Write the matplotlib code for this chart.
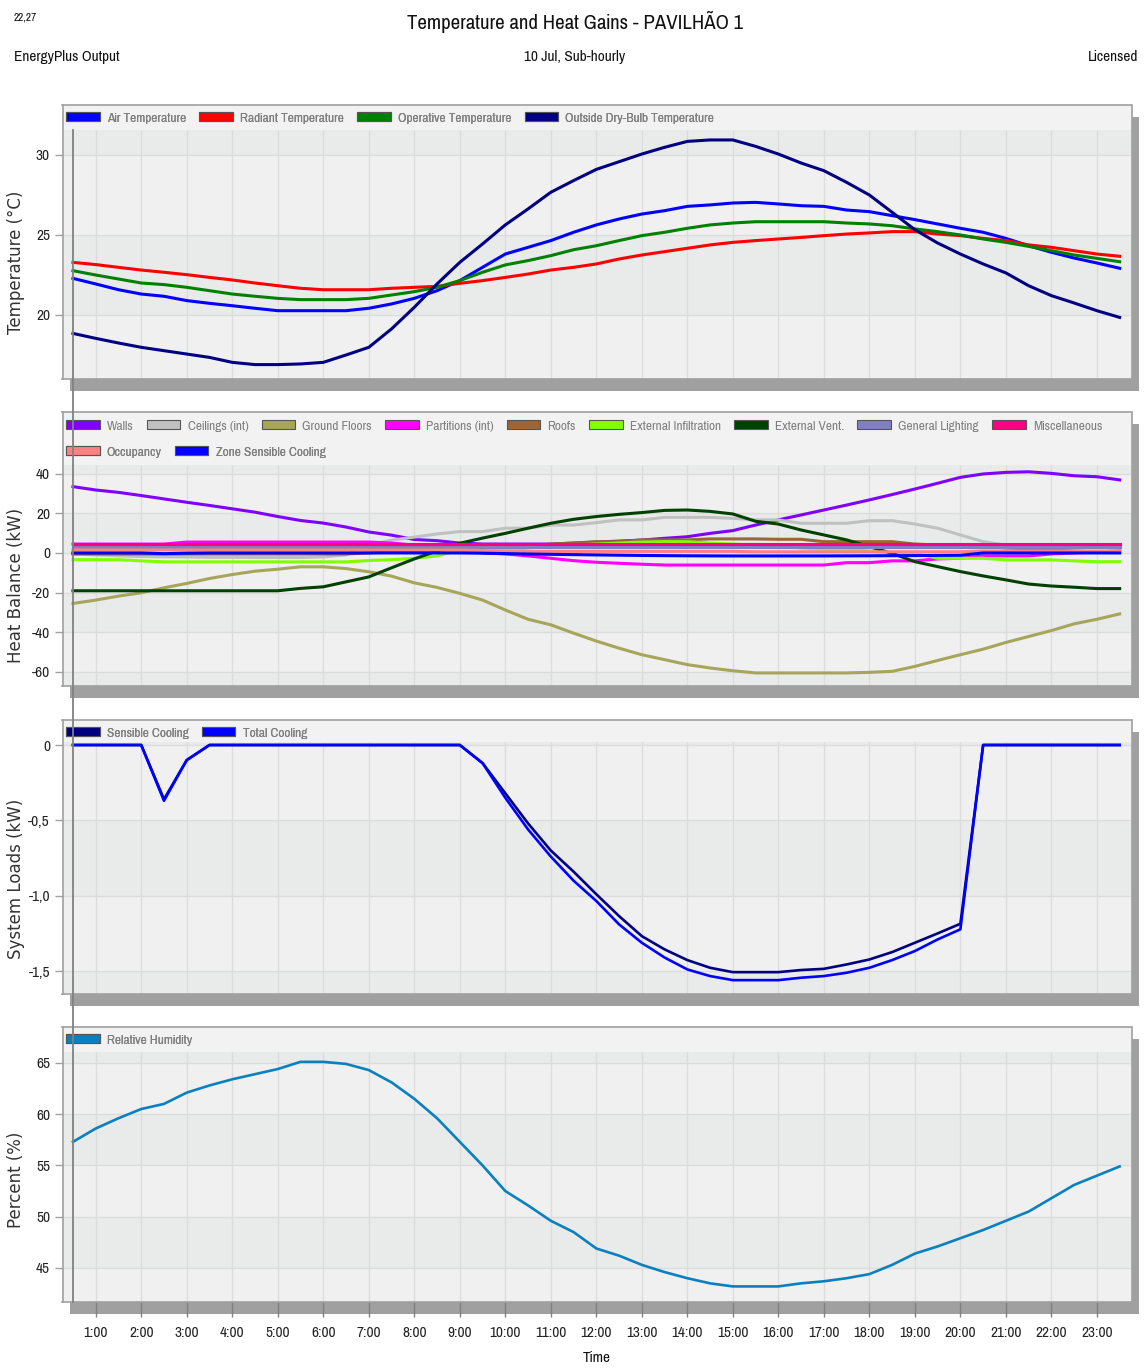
import numpy as np
import matplotlib
matplotlib.use("Agg")
import matplotlib.pyplot as plt
from matplotlib.patches import Rectangle, Patch
from matplotlib.lines import Line2D
from matplotlib import transforms

W, H, DPI = 1146, 1369, 100
NARROW = ['Pragati Narrow', 'Archivo Narrow', 'DejaVu Sans']

# ---------------------------------------------------------------- data
hours = np.arange(0.5, 23.51, 0.5)          # sub-hourly time stamps (h)
hour_ticks = list(range(1, 24))
hour_labels = [f"{h}:00" for h in hour_ticks]

air_temp = [22.29, 21.94, 21.58, 21.31, 21.17, 20.90, 20.73, 20.58, 20.42, 20.27,
            20.27, 20.27, 20.27, 20.42, 20.69, 21.04, 21.52, 22.15, 22.98, 23.81,
            24.23, 24.65, 25.17, 25.63, 26.00, 26.31, 26.52, 26.79, 26.88, 27.00,
            27.04, 26.94, 26.83, 26.79, 26.56, 26.46, 26.21, 25.96, 25.69, 25.42,
            25.17, 24.79, 24.33, 23.92, 23.56, 23.25, 22.92]
radiant_temp = [23.29, 23.15, 22.98, 22.81, 22.67, 22.52, 22.35, 22.19, 22.00, 21.83,
                21.67, 21.58, 21.58, 21.58, 21.67, 21.73, 21.79, 21.98, 22.15, 22.35,
                22.56, 22.81, 22.98, 23.19, 23.50, 23.75, 23.96, 24.17, 24.38, 24.54,
                24.65, 24.75, 24.85, 24.96, 25.06, 25.13, 25.21, 25.21, 25.06, 24.96,
                24.79, 24.65, 24.38, 24.23, 24.02, 23.81, 23.67]
operative_temp = [22.77, 22.50, 22.25, 22.00, 21.90, 21.73, 21.52, 21.31, 21.17, 21.04,
                  20.96, 20.96, 20.96, 21.04, 21.25, 21.46, 21.73, 22.15, 22.67, 23.13,
                  23.40, 23.71, 24.08, 24.33, 24.65, 24.96, 25.17, 25.42, 25.63, 25.75,
                  25.83, 25.83, 25.83, 25.83, 25.75, 25.69, 25.58, 25.38, 25.21, 25.00,
                  24.75, 24.54, 24.29, 24.02, 23.75, 23.54, 23.33]
outside_temp = [18.85, 18.54, 18.25, 17.98, 17.77, 17.56, 17.35, 17.04, 16.90, 16.90,
                16.94, 17.04, 17.50, 17.98, 19.13, 20.48, 21.94, 23.29, 24.44, 25.63,
                26.63, 27.67, 28.40, 29.10, 29.58, 30.06, 30.48, 30.85, 30.94, 30.94,
                30.54, 30.06, 29.50, 29.02, 28.29, 27.50, 26.42, 25.33, 24.50, 23.81,
                23.19, 22.63, 21.83, 21.21, 20.75, 20.27, 19.85]

walls = [33.5, 31.8, 30.6, 29.0, 27.3, 25.6, 24.0, 22.3, 20.6, 18.4,
         16.4, 15.1, 13.1, 10.6, 9.0, 6.8, 6.2, 5.0, 4.5, 4.5,
         4.5, 4.5, 5.0, 5.5, 6.0, 6.5, 7.4, 8.2, 9.9, 11.3,
         14.1, 16.7, 19.2, 21.7, 24.2, 26.8, 29.5, 32.3, 35.2, 38.2,
         39.9, 40.7, 41.0, 40.2, 39.0, 38.5, 36.9]
ceilings = [-0.5, -1.0, -1.5, -1.8, -2.0, -2.0, -2.2, -2.2, -2.3, -2.3,
            -2.3, -2.0, -1.0, 4.0, 6.5, 8.0, 9.6, 10.8, 10.8, 12.5,
            12.5, 14.1, 14.1, 15.3, 16.7, 16.7, 18.0, 18.0, 18.0, 17.5,
            16.7, 16.7, 15.0, 15.0, 15.0, 16.3, 16.3, 14.6, 12.5, 9.1,
            5.7, 4.0, 3.5, 3.2, 3.0, 3.0, 3.0]
ground_floors = [-25.5, -23.8, -21.8, -20.1, -17.6, -15.4, -12.9, -10.9, -9.2, -8.2,
                 -7.0, -7.0, -7.9, -9.5, -11.7, -15.1, -17.4, -20.4, -23.8, -28.8,
                 -33.5, -36.3, -40.5, -44.5, -48.1, -51.4, -53.9, -56.4, -58.1, -59.5,
                 -60.6, -60.6, -60.6, -60.6, -60.6, -60.3, -59.8, -57.3, -54.3, -51.4,
                 -48.6, -45.2, -42.2, -39.2, -35.8, -33.5, -30.8]
partitions = [4.5, 4.5, 4.5, 4.5, 4.5, 5.5, 5.5, 5.5, 5.5, 5.5,
              5.5, 5.5, 5.5, 5.5, 5.0, 4.0, 1.5, 1.5, 0.0, -0.5,
              -1.5, -2.7, -3.9, -4.7, -5.2, -5.7, -6.1, -6.1, -6.1, -6.1,
              -6.1, -6.1, -6.1, -6.1, -4.9, -4.9, -4.0, -4.0, -3.0, -2.7,
              -1.5, -1.5, -1.5, -0.5, 0.0, 0.5, 1.0]
roofs = [-0.5, -0.5, -0.5, -0.5, -0.5, -0.5, -0.5, -0.5, -0.5, -0.5,
         -0.5, -0.5, -0.5, 0.0, 0.5, 1.0, 1.5, 2.0, 2.5, 3.0,
         3.5, 4.5, 5.0, 5.7, 5.7, 6.6, 6.6, 6.6, 7.1, 7.1,
         7.1, 6.9, 6.9, 5.7, 5.7, 5.7, 5.7, 4.5, 4.0, 3.5,
         3.5, 2.5, 2.0, 1.5, 1.0, 0.5, 0.5]
infiltration = [-3.4, -3.4, -3.4, -4.0, -4.5, -4.5, -4.5, -4.5, -4.5, -4.5,
                -4.5, -4.5, -4.5, -3.8, -3.4, -2.7, -1.5, 1.5, 1.5, 1.5,
                2.5, 3.5, 4.0, 4.5, 5.0, 5.5, 5.7, 5.7, 5.0, 4.5,
                4.0, 3.5, 2.5, 1.9, 1.9, 1.0, -0.2, -0.2, -2.7, -2.7,
                -2.7, -3.5, -3.5, -3.5, -4.0, -4.4, -4.4]
ventilation = [-19.1, -19.1, -19.1, -19.1, -19.1, -19.1, -19.1, -19.1, -19.1, -19.1,
               -17.9, -17.1, -14.6, -12.1, -7.5, -3.0, 1.0, 4.9, 7.5, 9.9,
               12.5, 15.0, 17.0, 18.4, 19.5, 20.4, 21.5, 21.7, 21.0, 19.7,
               16.0, 14.6, 11.6, 9.1, 6.6, 3.2, -0.2, -4.4, -6.9, -9.4,
               -11.6, -13.6, -15.7, -16.7, -17.3, -18.0, -18.0]
lighting = [2.8, 2.8, 2.8, 2.8, 2.8, 2.8, 2.8, 2.8, 2.8, 2.8,
            2.8, 2.8, 2.8, 2.8, 2.8, 2.8, 2.8, 2.8, 2.8, 2.8,
            2.8, 2.8, 2.8, 2.8, 2.8, 2.8, 2.8, 2.8, 2.8, 2.8,
            2.8, 2.8, 2.8, 2.8, 2.8, 2.8, 2.8, 2.8, 2.8, 2.8,
            2.8, 2.8, 2.8, 2.8, 2.8, 2.8, 2.8]
miscellaneous = [4.5, 4.5, 4.5, 4.5, 4.5, 4.5, 4.5, 4.5, 4.5, 4.5,
                 4.5, 4.5, 4.5, 4.5, 4.5, 4.5, 4.5, 4.5, 4.5, 4.5,
                 4.5, 4.5, 4.5, 4.5, 4.5, 4.5, 4.5, 4.5, 4.5, 4.5,
                 4.5, 4.5, 4.5, 4.5, 4.5, 4.5, 4.5, 4.5, 4.5, 4.5,
                 4.5, 4.5, 4.5, 4.5, 4.5, 4.5, 4.5]
occupancy = [1.5, 1.5, 1.5, 1.5, 1.5, 1.5, 1.5, 1.5, 1.5, 1.5,
             1.5, 1.5, 1.5, 1.5, 1.5, 1.5, 1.5, 1.5, 1.2, 0.8,
             0.8, 0.8, 0.8, 0.8, 0.8, 0.8, 0.8, 0.8, 0.8, 0.8,
             0.6, 0.6, 0.6, 0.6, 0.6, 0.6, 0.6, 0.6, 0.6, 0.6,
             1.0, 1.0, 1.0, 1.0, 1.0, 1.0, 1.0]

sensible_cooling = [0, 0, 0, 0, -0.36, -0.10, 0, 0, 0, 0,
                    0, 0, 0, 0, 0, 0, 0, 0, -0.12, -0.32,
                    -0.52, -0.70, -0.84, -0.99, -1.135, -1.268, -1.356, -1.427, -1.478, -1.507,
                    -1.507, -1.507, -1.493, -1.485, -1.456, -1.423, -1.374, -1.312, -1.25, -1.186,
                    0, 0, 0, 0, 0, 0, 0]
total_cooling = [0, 0, 0, 0, -0.37, -0.10, 0, 0, 0, 0,
                 0, 0, 0, 0, 0, 0, 0, 0, -0.12, -0.35,
                 -0.56, -0.74, -0.90, -1.035, -1.19, -1.312, -1.41, -1.489, -1.533, -1.56,
                 -1.56, -1.56, -1.544, -1.533, -1.511, -1.478, -1.427, -1.367, -1.29, -1.223,
                 0, 0, 0, 0, 0, 0, 0]
zone_sensible_cooling = sensible_cooling

rel_humidity = [57.3, 58.6, 59.6, 60.5, 61.0, 62.1, 62.8, 63.4, 63.9, 64.4,
                65.1, 65.1, 64.9, 64.3, 63.1, 61.5, 59.6, 57.3, 55.0, 52.5,
                51.1, 49.6, 48.5, 46.9, 46.2, 45.3, 44.6, 44.0, 43.5, 43.2,
                43.2, 43.2, 43.5, 43.7, 44.0, 44.4, 45.3, 46.4, 47.1, 47.9,
                48.7, 49.6, 50.5, 51.8, 53.1, 54.0, 54.9]

# ---------------------------------------------------------------- figure
fig = plt.figure(figsize=(W / DPI, H / DPI), dpi=DPI)
fig.patch.set_facecolor('white')

XLIM = (0.27, 23.76)
FRAME_X = (62.5, 1131.5)
SHADOW_DX, SHADOW_DY = 7, 12


def fig_rect(x0, y0, x1, y1):
    return [x0 / W, 1 - y1 / H, (x1 - x0) / W, (y1 - y0) / H]


def make_panel(top, bottom, ylim, band_bottom, ticks, ticklabels, ylabel, ylabel_y):
    x0, x1 = FRAME_X
    # drop shadow
    fig.add_artist(Rectangle(((x0 + SHADOW_DX) / W, 1 - (bottom + SHADOW_DY) / H),
                             (x1 - x0) / W, (bottom - top) / H,
                             transform=fig.transFigure, facecolor='#a0a0a0',
                             edgecolor='none', zorder=0))
    ax = fig.add_axes(fig_rect(x0, top, x1, bottom), zorder=1)
    ax.set_xlim(*XLIM)
    ax.set_ylim(*ylim)
    ax.set_facecolor('#eceded')
    # alternating horizontal bands between the y ticks
    edges = sorted(set([ylim[0]] + list(ticks) + [band_bottom]))
    n = len(edges) - 1
    for i in range(n):
        dark = ((n - 1 - i) % 2 == 0)
        ax.axhspan(edges[i], edges[i + 1], color='#e9eaea' if dark else '#eff0ef',
                   lw=0, zorder=0.2)
    ax.axhspan(band_bottom, ylim[1], color='#f1f2f1', lw=0, zorder=0.3)
    # grid
    ax.vlines(hour_ticks, ylim[0], band_bottom, color='#dcdcdc', lw=1.0, zorder=0.5)
    ax.hlines(ticks, XLIM[0], XLIM[1], color='#dcdcdc', lw=1.0, zorder=0.5)
    for s in ax.spines.values():
        s.set_color('#a0a0a0')
        s.set_linewidth(1.2)
    ax.set_yticks(ticks)
    ax.set_yticklabels(ticklabels, family=NARROW, fontsize=12, color='#222222')
    ax.tick_params(axis='y', direction='out', length=6, width=1, color='#a0a0a0', pad=3)
    ax.set_xticks(hour_ticks)
    ax.tick_params(axis='x', length=0, labelbottom=False)
    fig.text(16 / W, 1 - ylabel_y / H, ylabel, rotation=90, ha='center', va='center',
             fontsize=12, color='#333333', family='DejaVu Sans')
    return ax


def legend_row(ax, handles, labels, top, bottom, y_px):
    leg = ax.legend(handles, labels, loc='center left',
                    bbox_to_anchor=((66 - FRAME_X[0]) / (FRAME_X[1] - FRAME_X[0]),
                                    (bottom - y_px) / (bottom - top)),
                    ncol=len(labels), frameon=False, borderpad=0, borderaxespad=0,
                    handlelength=2.3, handleheight=0.55, handletextpad=0.5,
                    columnspacing=0.9, labelcolor='#7f7f7f',
                    prop={'family': NARROW, 'size': 10.5})
    ax.add_artist(leg)
    return leg


def patch(c):
    return Patch(facecolor=c, edgecolor='#555555', linewidth=0.8)


LW = 2.2

# ---- panel 1: temperatures
t1, b1 = 105, 379
ax1 = make_panel(t1, b1, (16.0, 33.125), 31.56, [20, 25, 30], ['20', '25', '30'],
                 'Temperature (°C)', 262)
temp_series = [('Air Temperature', air_temp, '#0000ff'),
               ('Radiant Temperature', radiant_temp, '#ff0000'),
               ('Operative Temperature', operative_temp, '#008000'),
               ('Outside Dry-Bulb Temperature', outside_temp, '#000080')]
for i, (lab, vals, c) in enumerate(temp_series):
    ax1.plot(hours, vals, color=c, lw=LW, zorder=2 + i * 0.1)
legend_row(ax1, [patch(c) for _, _, c in temp_series], [l for l, _, _ in temp_series],
           t1, b1, 118)

# ---- panel 2: heat balance
t2, b2 = 412, 686
ax2 = make_panel(t2, b2, (-67.2, 71.2), 44.4, [-60, -40, -20, 0, 20, 40],
                 ['-60', '-40', '-20', '0', '20', '40'], 'Heat Balance (kW)', 585)
heat_series = [('Walls', walls, '#8000ff'),
               ('Ceilings (int)', ceilings, '#c0c0c0'),
               ('Ground Floors', ground_floors, '#a6a55a'),
               ('Partitions (int)', partitions, '#ff00ff'),
               ('Roofs', roofs, '#9c6535'),
               ('External Infiltration', infiltration, '#80ff00'),
               ('External Vent.', ventilation, '#004000'),
               ('General Lighting', lighting, '#8080c0'),
               ('Miscellaneous', miscellaneous, '#ff0080'),
               ('Occupancy', occupancy, '#ff8080'),
               ('Zone Sensible Cooling', zone_sensible_cooling, '#0000ff')]
for i, (lab, vals, c) in enumerate(heat_series):
    ax2.plot(hours, vals, color=c, lw=LW, zorder=2 + i * 0.1)
legend_row(ax2, [patch(c) for _, _, c in heat_series[:9]], [l for l, _, _ in heat_series[:9]],
           t2, b2, 426)
legend_row(ax2, [patch(c) for _, _, c in heat_series[9:]], [l for l, _, _ in heat_series[9:]],
           t2, b2, 452)

# ---- panel 3: system loads
t3, b3 = 720, 994
ax3 = make_panel(t3, b3, (-1.652, 0.166), 0.02, [-1.5, -1.0, -0.5, 0],
                 ['-1,5', '-1,0', '-0,5', '0'], 'System Loads (kW)', 879)
sys_series = [('Sensible Cooling', sensible_cooling, '#000080'),
              ('Total Cooling', total_cooling, '#0000ff')]
for i, (lab, vals, c) in enumerate(sys_series):
    ax3.plot(hours, vals, color=c, lw=1.9, zorder=2 + i * 0.1)
legend_row(ax3, [patch(c) for _, _, c in sys_series], [l for l, _, _ in sys_series],
           t3, b3, 733)

# ---- panel 4: relative humidity
t4, b4 = 1027, 1302
ax4 = make_panel(t4, b4, (41.68, 68.5), 66.07, [45, 50, 55, 60, 65],
                 ['45', '50', '55', '60', '65'], 'Percent (%)', 1180)
ax4.plot(hours, rel_humidity, color='#0a80c0', lw=1.9, zorder=2)
legend_row(ax4, [patch('#0a80c0')], ['Relative Humidity'], t4, b4, 1040)
ax4.tick_params(axis='x', length=11, width=1, color='#808080', labelbottom=True, pad=6)
ax4.set_xticklabels(hour_labels, family=NARROW, fontsize=12, color='#222222')

# vertical marker at the first time stamp, spanning all panels
trans = transforms.blended_transform_factory(ax4.transData, fig.transFigure)
fig.add_artist(Line2D([hours[0], hours[0]], [1 - 1302 / H, 1 - 130 / H], transform=trans,
                      color='#808080', lw=1.3, zorder=5))

# ---- header texts
fig.text(575 / W, 1 - 22 / H, 'Temperature and Heat Gains - PAVILHÃO 1', ha='center',
         va='center', fontsize=16.3, family=NARROW, color='#111111')
fig.text(14 / W, 1 - 18 / H, '22,27', ha='left', va='center', fontsize=9,
         family=NARROW, color='#111111')
fig.text(14 / W, 1 - 57 / H, 'EnergyPlus Output', ha='left', va='center', fontsize=12,
         family=NARROW, color='#111111')
fig.text(575 / W, 1 - 57 / H, '10 Jul, Sub-hourly', ha='center', va='center', fontsize=12,
         family=NARROW, color='#111111')
fig.text(1138 / W, 1 - 57 / H, 'Licensed', ha='right', va='center', fontsize=12,
         family=NARROW, color='#111111')
fig.text(597 / W, 1 - 1358 / H, 'Time', ha='center', va='center', fontsize=12,
         family=NARROW, color='#111111')

fig.savefig('out.png', dpi=DPI, facecolor='white')
